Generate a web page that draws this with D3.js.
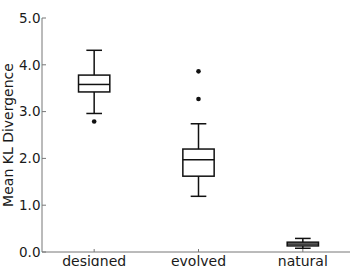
<!DOCTYPE html>
<html><head><meta charset="utf-8">
<script src="https://cdn.jsdelivr.net/npm/d3@7"></script>
<style>body{margin:0;background:#fff}svg{display:block}text{font-family:"DejaVu Sans";fill:#1a1a1a}</style>
</head><body><svg id="c" width="350" height="266"></svg>
<script>
const categories = ["designed","evolved","natural"];
const whiskerLow  = [2.96, 1.19, 0.08];
const q1          = [3.42, 1.62, 0.13];
const medians     = [3.58, 1.97, 0.17];
const q3          = [3.78, 2.20, 0.21];
const whiskerHigh = [4.31, 2.74, 0.29];
const outliers    = [[2.79],[3.86,3.27],[]];
const yTicks = [0,1,2,3,4,5];

const svg = d3.select("#c");
const x = d3.scaleLinear().domain([0.5,3.5]).range([42,355]);
const y = d3.scaleLinear().domain([0,5]).range([252,18]);
const step = x(2)-x(1);
const bw = step*0.3, cw = bw*0.5;

// axes
svg.append("line").attr("x1",42).attr("x2",42).attr("y1",y(5)).attr("y2",y(0)).attr("stroke","#777").attr("stroke-width",1);
svg.append("line").attr("x1",42).attr("x2",355).attr("y1",y(0)).attr("y2",y(0)).attr("stroke","#777").attr("stroke-width",1);
yTicks.forEach(t=>{
  svg.append("line").attr("x1",42).attr("x2",46).attr("y1",y(t)).attr("y2",y(t)).attr("stroke","#777");
  svg.append("text").attr("x",40.5).attr("y",y(t)).attr("dy","0.36em").attr("text-anchor","end").attr("font-size",13.5).text(t.toFixed(1));
});
categories.forEach((c,i)=>{
  const cx = x(i+1);
  svg.append("line").attr("x1",cx).attr("x2",cx).attr("y1",y(0)).attr("y2",y(0)-3).attr("stroke","#777");
  svg.append("text").attr("x",cx).attr("y",265.5).attr("text-anchor","middle").attr("font-size",14).text(c);
});
svg.append("text").attr("transform",`translate(13,${(y(0)+y(5))/2}) rotate(-90)`).attr("text-anchor","middle").attr("font-size",14).text("Mean KL Divergence");

// boxes
const g = svg.append("g").attr("stroke","#111").attr("stroke-width",1.5).attr("fill","none");
categories.forEach((c,i)=>{
  const cx = x(i+1);
  g.append("line").attr("x1",cx).attr("x2",cx).attr("y1",y(whiskerHigh[i])).attr("y2",y(q3[i]));
  g.append("line").attr("x1",cx).attr("x2",cx).attr("y1",y(q1[i])).attr("y2",y(whiskerLow[i]));
  g.append("line").attr("x1",cx-cw/2).attr("x2",cx+cw/2).attr("y1",y(whiskerHigh[i])).attr("y2",y(whiskerHigh[i]));
  g.append("line").attr("x1",cx-cw/2).attr("x2",cx+cw/2).attr("y1",y(whiskerLow[i])).attr("y2",y(whiskerLow[i]));
  g.append("rect").attr("x",cx-bw/2).attr("width",bw).attr("y",y(q3[i])).attr("height",y(q1[i])-y(q3[i]));
  g.append("line").attr("x1",cx-bw/2).attr("x2",cx+bw/2).attr("y1",y(medians[i])).attr("y2",y(medians[i]));
  outliers[i].forEach(o=>{
    svg.append("circle").attr("cx",cx).attr("cy",y(o)).attr("r",2.3).attr("fill","#111");
  });
});
</script></body></html>
